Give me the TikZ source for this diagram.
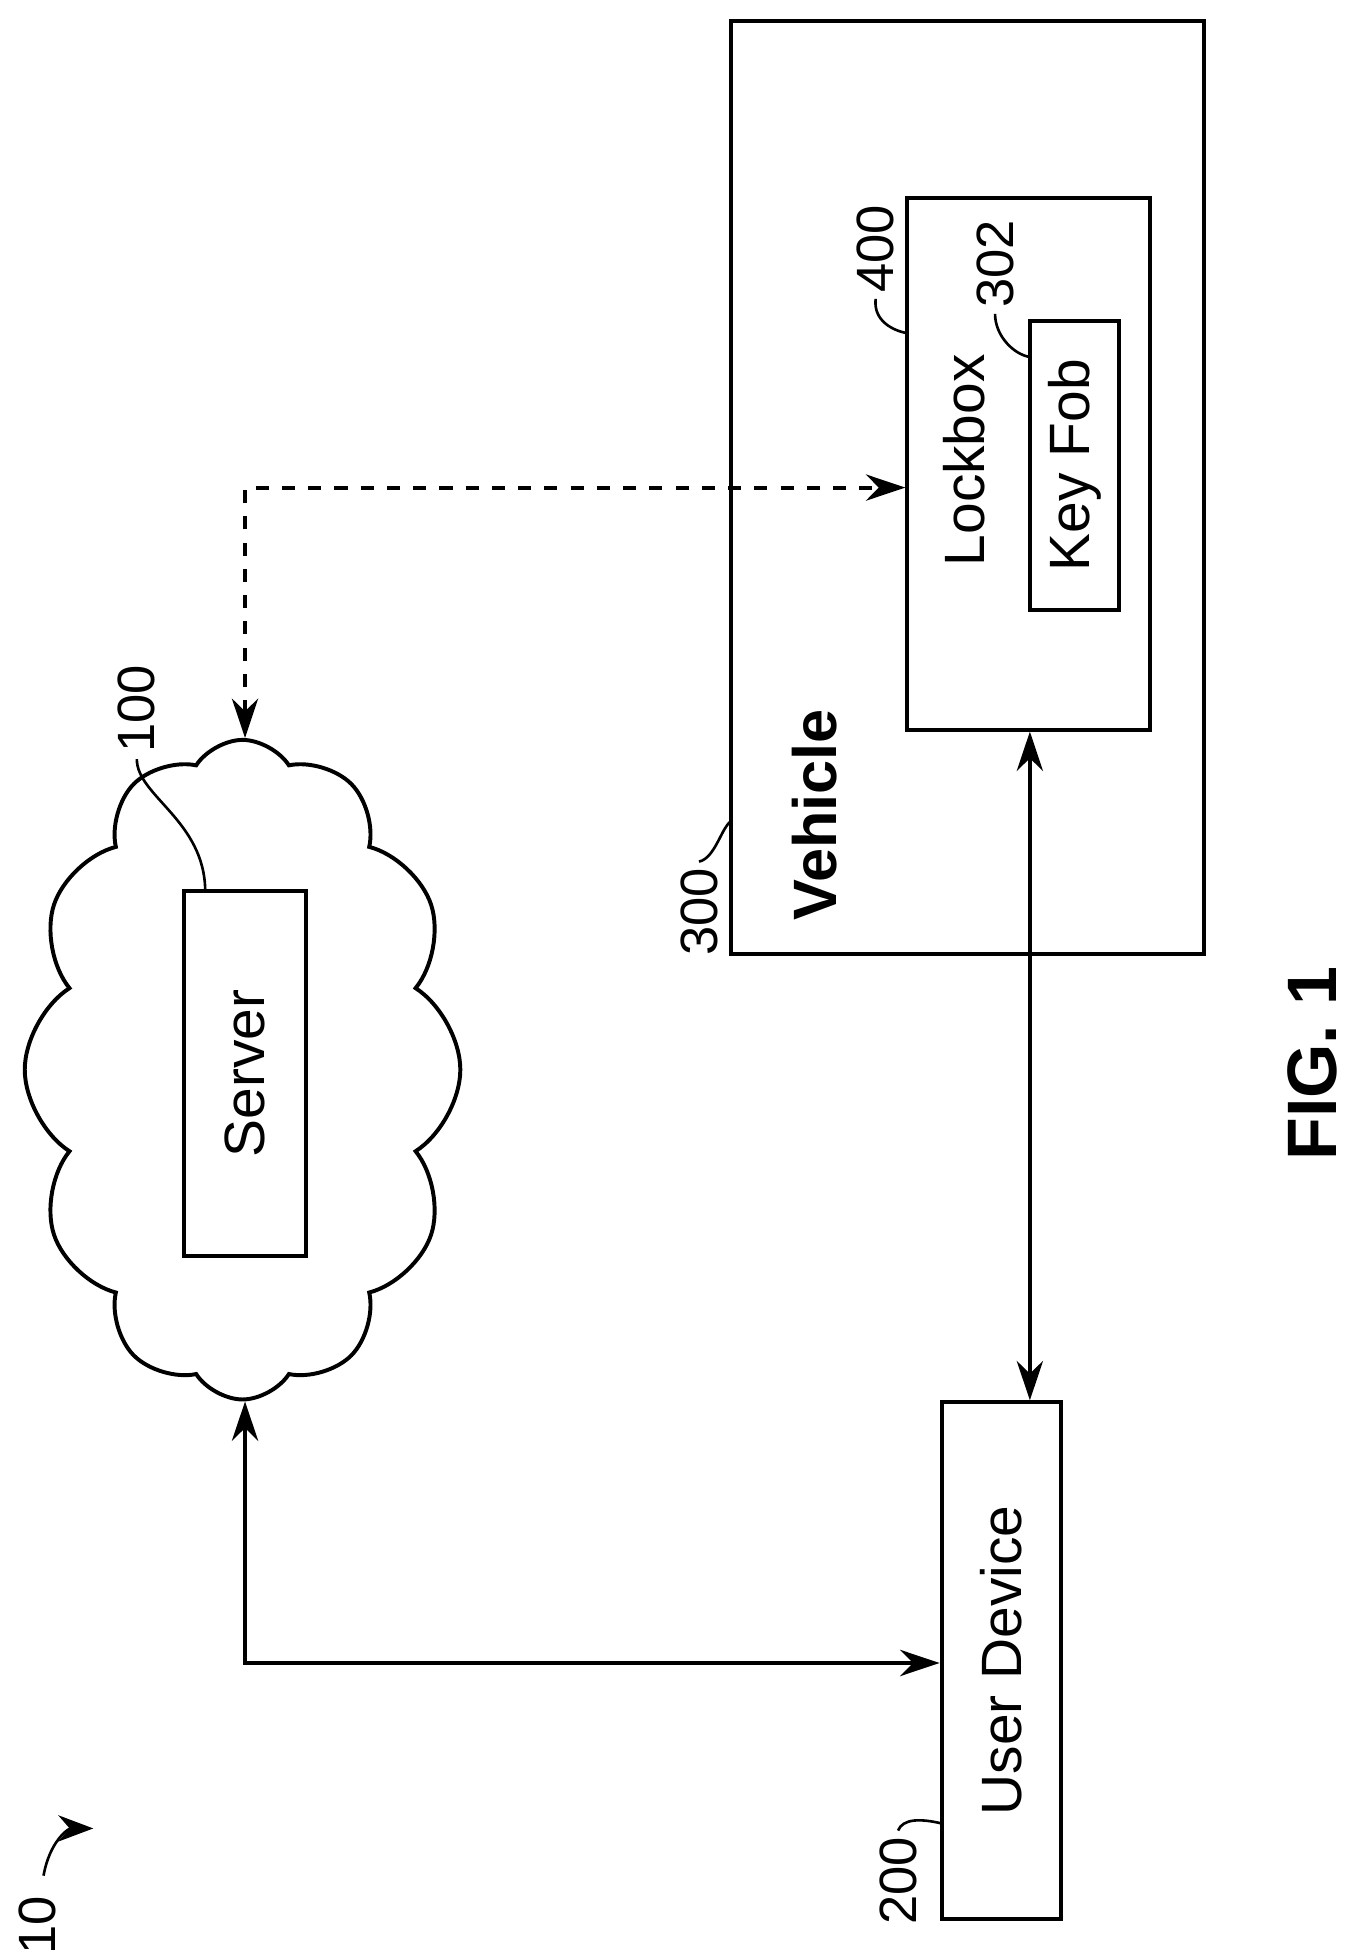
\documentclass[tikz,border=0pt]{standalone}
\usepackage{fontspec}
\setmainfont{Liberation Sans}
\usetikzlibrary{shapes.symbols,arrows.meta}
\begin{document}
\begin{tikzpicture}[x=0.01cm,y=-0.01cm,line width=0.9pt,
    box/.style={draw,rectangle,inner sep=0pt},
    txt/.style={rotate=90,font=\fontsize{13}{15}\selectfont},
    num/.style={rotate=90,font=\fontsize{12}{14}\selectfont,inner sep=1pt},
    lead/.style={line width=0.6pt},
    conn/.style={-{Stealth[length=9pt,width=6pt]}}]
    \useasboundingbox (0,0) rectangle (1100,1575);
    % cloud and boxes
    \node[draw,cloud,cloud puffs=12,cloud puff arc=115,aspect=0.64,
      minimum width=3.5cm,minimum height=5.3cm] (cloud) at (195,860) {};
    \node[box,minimum width=0.98cm,minimum height=2.93cm] (server) at (197,863) {};
    \node[txt] at (server) {Server};
    \node[box,minimum width=3.8cm,minimum height=7.5cm] (vehicle) at (778,392) {};
    \node[txt,font=\fontsize{14}{16}\selectfont\bfseries] at (655,655) {Vehicle};
    \node[box,minimum width=1.95cm,minimum height=4.27cm] (lockbox) at (827,373) {};
    \node[txt] at (775,370) {Lockbox};
    \node[box,minimum width=0.72cm,minimum height=2.32cm] (fob) at (864,374) {};
    \node[txt] at (fob) {Key Fob};
    \node[box,minimum width=0.96cm,minimum height=4.15cm] (user) at (805,1335) {};
    \node[txt] at (user) {User Device};
    \node[rotate=90,font=\fontsize{16}{18}\selectfont\bfseries] (fig) at (1055,855) {FIG. 1};
    % connectors
    \coordinate (d1) at (197,392);
    \coordinate (u1) at (197,1337);
    \draw[dashed,{Stealth[length=9pt,width=6pt]}-{Stealth[length=9pt,width=6pt]}]
      (cloud.north) ++(2,0) coordinate (cn) (cn) -- (d1) -- (lockbox.west |- d1);
    \draw[{Stealth[length=9pt,width=6pt]}-{Stealth[length=9pt,width=6pt]}]
      (cloud.south) ++(2,0) coordinate (cs) (cs) -- (u1) -- (user.west |- u1);
    \draw[{Stealth[length=9pt,width=6pt]}-{Stealth[length=9pt,width=6pt]}]
      (lockbox.south -| 828,0) -- (user.north -| 828,0);
    % reference numbers
    \node[num] (n10) at (30,1548) {10};
    \draw[lead,-{Stealth[length=8pt,width=6pt]}] (35,1508) .. controls (40,1480) and (55,1470) .. (75,1470);
    \node[num] (n200) at (722,1512) {200};
    \draw[lead] (n200.east) .. controls (726,1462) and (740,1462) .. (757,1466);
    \node[num] (n300) at (562,733) {300};
    \draw[lead] (n300.east) .. controls (575,690) and (580,665) .. (588,660);
    \node[num] (n100) at (110,570) {100};
    \draw[lead] (n100.west) .. controls (110,640) and (165,660) .. (165,717);
    \node[num] (n400) at (704,200) {400};
    \draw[lead] (n400.west) .. controls (702,258) and (718,266) .. (730,268);
    \node[num] (n302) at (800,212) {302};
    \draw[lead] (n302.west) .. controls (800,270) and (815,285) .. (828,287);
\end{tikzpicture}
\end{document}
